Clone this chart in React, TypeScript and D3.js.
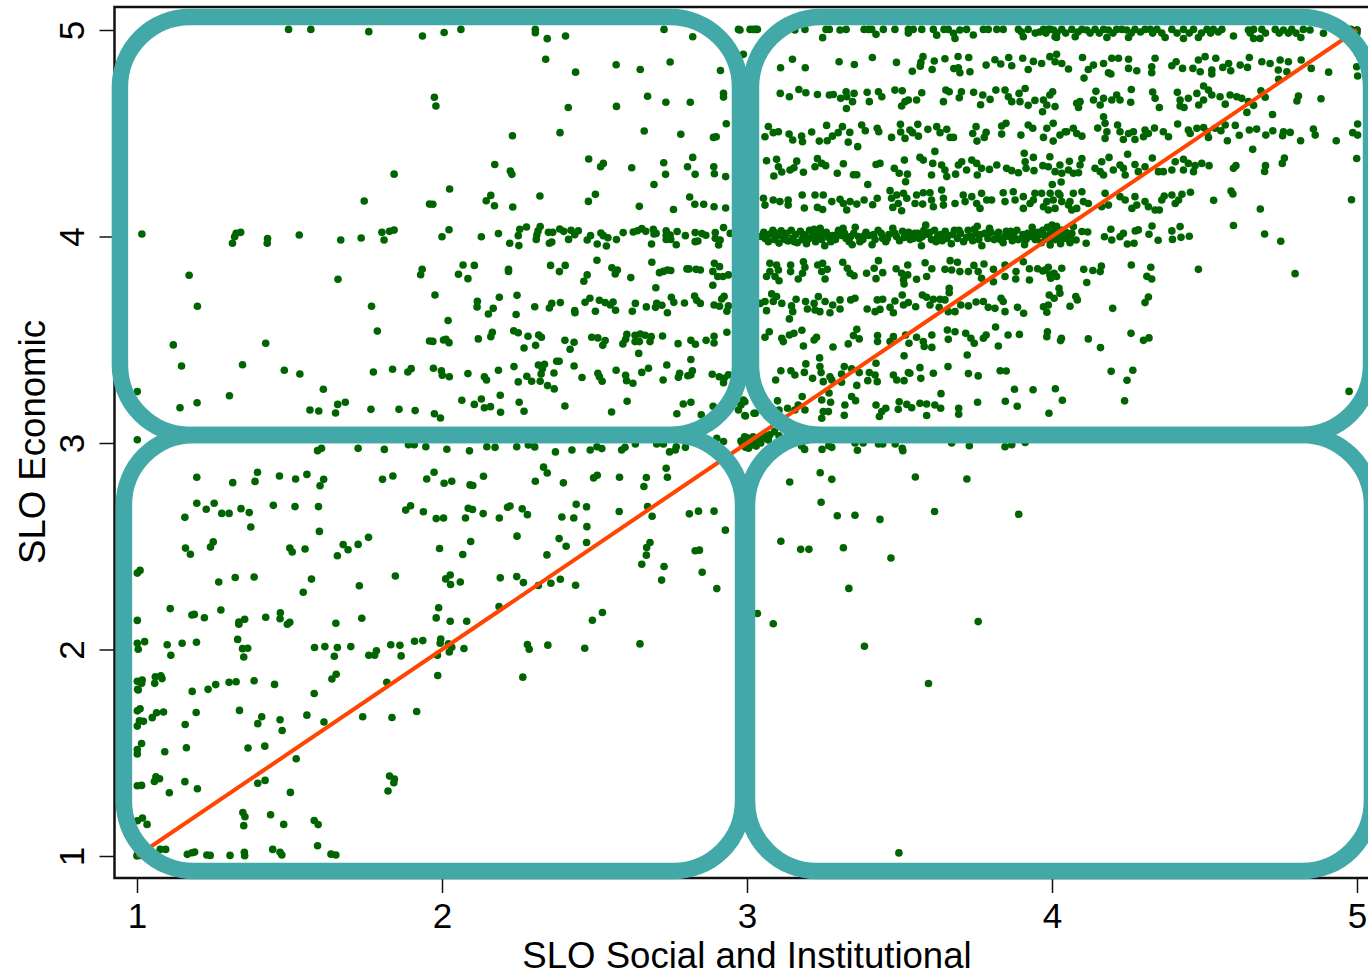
import React, { useEffect, useRef } from "react";
import * as d3 from "d3";

type Pair = [number, number];

const width = 1368;
const height = 974;

const xTicks = [1, 2, 3, 4, 5];
const yTicks = [1, 2, 3, 4, 5];

// quadrant outlines: x0, x1, y0, y1
const quadrants = [
  [0.944, 2.977, 3.039, 5.063],
  [3.013, 5.046, 3.039, 5.063],
  [0.957, 2.987, 0.927, 3.039],
  [3.0, 5.049, 0.927, 3.039],
];

// low social + high economic
const upperLeft: Pair[] = [
  [1.497,5.003],[1.57,5.003],[1.76,4.992],[1.936,4.971],[1.843,4.302],[1.745,4.172],[1.959,4.157],[1.016,4.012],[1.34,4.02],[1.325,4.015],[1.32,3.999],[1.428,3.99],[1.532,4.007],[1.668,3.983],[1.735,3.993],[1.803,4.02],[1.828,4.025],[1.843,4.031],[1.81,3.983],
  [2.007,4.988],[2.062,5.003],[2.306,5.003],[2.306,4.987],[2.345,4.958],[2.405,4.971],[2.728,5.003],[2.822,4.967],[2.972,5.003],[2.988,4.882],[2.34,4.858],[2.438,4.796],[2.571,4.832],[2.65,4.809],[2.748,4.845],[2.913,4.804],[1.975,4.674],[1.98,4.632],[2.414,4.625],[2.572,4.63],[2.674,4.679],[2.734,4.65],[2.814,4.65],[2.923,4.693],[2.923,4.675],[2.231,4.488],[2.387,4.503],[2.663,4.511],[2.783,4.495],[2.932,4.546],[2.89,4.48],[2.899,4.483],[2.173,4.349],[2.224,4.317],[2.229,4.301],[2.481,4.375],[2.52,4.338],[2.529,4.354],[2.622,4.333],[2.727,4.357],[2.733,4.301],[2.805,4.338],[2.822,4.383],[2.83,4.301],[2.891,4.338],[2.893,4.304],[2.93,4.29],[2.025,4.23],[1.97,4.156],[2.16,4.199],[2.145,4.173],[2.172,4.149],[2.232,4.143],[2.321,4.196],[2.503,4.204],[2.48,4.17],[2.647,4.146],[2.695,4.252],[2.759,4.131],[2.812,4.191],[2.829,4.156],[2.858,4.156],[2.892,4.144],[2.93,4.138],
  [2.0,3.999],[2.023,4.033],[2.129,3.999],[2.185,4.014],[2.222,3.967],[2.25,4.004],[2.255,4.035],[2.277,4.046],[2.252,3.956],[2.309,3.986],[2.311,4.007],[2.315,4.027],[2.322,4.048],[2.349,4.02],[2.363,4.02],[2.352,3.967],[2.36,3.973],[2.386,4.036],[2.399,4.025],[2.415,3.986],[2.423,4.03],[2.435,4.009],[2.447,4.028],[2.476,3.983],[2.487,4.004],[2.509,3.964],[2.521,4.017],[2.529,4.004],[2.544,3.994],[2.539,3.954],[2.572,3.985],[2.594,4.019],[2.627,4.022],[2.641,4.028],[2.655,4.038],[2.668,4.025],[2.687,3.964],[2.693,4.035],[2.695,4.012],[2.702,4.015],[2.735,4.028],[2.735,4.006],[2.735,3.986],[2.748,4.007],[2.75,3.986],[2.768,3.96],[2.771,4.024],[2.798,4.004],[2.83,4.019],[2.83,3.975],[2.839,3.978],[2.852,4.014],[2.865,4.006],[2.896,4.019],[2.896,3.991],[2.907,3.959],[2.912,3.983],[2.923,4.043],[2.945,4.015],
  [2.069,3.862],[2.106,3.86],[2.054,3.817],[2.085,3.796],[2.218,3.841],[2.218,3.831],[2.356,3.86],[2.404,3.86],[2.385,3.83],[2.508,3.885],[2.476,3.814],[2.465,3.783],[2.557,3.849],[2.575,3.838],[2.568,3.819],[2.619,3.801],[2.688,3.875],[2.713,3.825],[2.726,3.831],[2.739,3.838],[2.75,3.835],[2.803,3.843],[2.81,3.843],[2.833,3.841],[2.847,3.838],[2.888,3.831],[2.893,3.87],[2.91,3.854],[2.904,3.806],[2.921,3.806],[2.939,3.814],[2.701,3.752],[2.888,3.764],
  [1.977,3.717],[2.116,3.686],[2.115,3.659],[2.168,3.652],[2.152,3.625],[2.188,3.706],[2.246,3.715],[2.243,3.622],[2.304,3.66],[2.352,3.654],[2.36,3.676],[2.388,3.68],[2.435,3.641],[2.436,3.631],[2.469,3.681],[2.485,3.701],[2.503,3.638],[2.516,3.691],[2.535,3.68],[2.552,3.668],[2.561,3.683],[2.569,3.643],[2.624,3.638],[2.634,3.676],[2.67,3.659],[2.7,3.657],[2.704,3.676],[2.721,3.667],[2.739,3.631],[2.752,3.706],[2.76,3.681],[2.795,3.678],[2.828,3.712],[2.835,3.691],[2.847,3.676],[2.892,3.668],[2.91,3.662],[2.917,3.697],[2.925,3.71],[2.934,3.638],[2.939,3.664],
  [2.02,3.593],[1.97,3.492],[2.005,3.499],[2.013,3.502],[2.023,3.486],[2.119,3.504],[2.16,3.515],[2.165,3.536],[2.235,3.543],[2.25,3.534],[2.282,3.517],[2.317,3.523],[2.326,3.512],[2.269,3.46],[2.307,3.473],[2.403,3.497],[2.433,3.488],[2.42,3.454],[2.491,3.512],[2.511,3.509],[2.535,3.496],[2.527,3.473],[2.593,3.48],[2.606,3.526],[2.602,3.502],[2.633,3.522],[2.633,3.491],[2.65,3.528],[2.647,3.491],[2.666,3.522],[2.686,3.515],[2.682,3.491],[2.723,3.518],[2.645,3.434],[2.774,3.481],[2.816,3.497],[2.831,3.478],[2.866,3.497],[2.892,3.517],[2.892,3.484],[2.934,3.536],
  [1.972,3.362],[1.998,3.35],[2.001,3.328],[2.024,3.321],[2.085,3.336],[2.139,3.321],[2.146,3.305],[2.185,3.352],[2.236,3.37],[2.25,3.296],[2.278,3.323],[2.294,3.299],[2.316,3.378],[2.336,3.381],[2.329,3.359],[2.325,3.334],[2.322,3.299],[2.367,3.339],[2.346,3.278],[2.368,3.262],[2.376,3.396],[2.384,3.396],[2.433,3.373],[2.459,3.317],[2.511,3.338],[2.516,3.321],[2.525,3.299],[2.571,3.352],[2.602,3.328],[2.605,3.302],[2.626,3.289],[2.655,3.342],[2.677,3.362],[2.725,3.305],[2.737,3.378],[2.779,3.338],[2.775,3.318],[2.806,3.326],[2.816,3.33],[2.821,3.35],[2.816,3.404],[2.886,3.333],[2.909,3.321],[2.923,3.292],[2.925,3.313],[2.939,3.33],
  [2.065,3.207],[2.106,3.187],[2.129,3.213],[2.139,3.171],[2.159,3.176],[2.191,3.231],[2.192,3.149],[2.253,3.197],[2.269,3.154],[2.403,3.179],[2.556,3.15],[2.607,3.202],[2.77,3.142],[2.791,3.189],[2.816,3.197],[2.85,3.137],[2.889,3.178],[1.975,3.142],[1.995,3.121],[2.972,3.16],[2.988,3.208],[2.995,3.131],[3.027,3.144],[2.98,3.184],
  [1.313,3.967],[1.427,3.967],[1.171,3.812],[1.659,3.793],[1.93,3.815],[1.935,3.841],[1.198,3.662],[1.769,3.662],[1.788,3.542],[1.959,3.494],[1.119,3.475],[1.422,3.483],[1.146,3.373],[1.346,3.379],[1.483,3.352],[1.534,3.334],[1.775,3.344],[1.838,3.357],[1.888,3.344],[1.899,3.36],[1.001,3.249],[1.611,3.26],[1.303,3.229],[1.197,3.195],[1.141,3.171],[1.658,3.187],[1.683,3.197],[1.567,3.16],[1.596,3.155],[1.651,3.145],[1.767,3.163],[1.859,3.163],[1.912,3.157],[1.001,3.016],
];

// the crowded row around y = 3 and the clump at (3, 3)
const rowThree: Pair[] = [
  [2.016,2.97],[2.09,2.962],[2.147,2.982],[2.174,2.979],[2.245,2.982],[2.283,2.99],[2.304,2.981],[2.372,2.957],[2.426,2.966],[2.486,2.966],[2.508,2.982],[2.524,2.973],[2.589,2.966],[2.6,2.979],[2.634,2.995],[2.704,2.995],[2.726,2.995],[2.746,2.957],[2.765,2.966],[2.768,2.982],[2.798,2.979],[2.901,3.023],[2.923,3.007],
  [1.592,2.963],[1.605,2.974],[1.725,2.974],[1.811,2.969],[1.89,2.992],[1.909,2.992],[1.947,2.982],
  [2.985,2.995],[2.99,3.015],[2.995,2.98],[3.0,3.0],[3.0,3.025],[3.005,2.975],[3.01,3.012],[3.015,2.99],[3.02,3.03],[3.025,3.005],[2.98,3.01],[3.03,2.985],[2.992,3.03],[3.035,3.015],[3.05,3.02],[3.06,3.035],[3.075,3.04],[3.09,3.055],[3.105,3.035],[3.07,3.015],[3.045,3.0],
];

const lowerRight: Pair[] = [
  [3.24,2.856],[3.278,2.824],[3.14,2.811],[3.552,2.835],[3.721,2.826],[3.243,2.713],[3.296,2.648],[3.354,2.65],[3.436,2.63],[3.615,2.668],[3.891,2.655],[3.111,2.524],[3.176,2.485],[3.203,2.485],[3.316,2.493],[3.472,2.443],[3.334,2.296],[3.034,2.174],[3.086,2.125],[3.758,2.135],[3.385,2.016],[3.595,1.835],[3.498,1.015],
  [3.179,2.986],[3.189,2.969],[3.246,2.969],[3.268,2.987],[3.278,2.979],[3.362,2.965],[3.509,2.974],[3.511,2.963],[3.729,2.987],[3.846,2.982],[3.868,2.992],[3.354,3.0],[3.381,3.0],[3.431,2.995],[3.445,2.995],[3.486,2.995],[3.671,3.0],[3.912,3.003],
];

const lowerLeft: Pair[] = [
  [1.196,2.834],[1.314,2.808],[1.395,2.858],[1.387,2.814],[1.467,2.84],[1.52,2.826],[1.557,2.848],[1.612,2.824],[1.6,2.793],[1.805,2.824],[1.839,2.84],[1.95,2.826],[1.196,2.708],[1.227,2.679],[1.253,2.708],[1.278,2.659],[1.302,2.659],[1.341,2.682],[1.368,2.663],[1.373,2.593],[1.447,2.698],[1.518,2.692],[1.595,2.692],[1.881,2.675],[1.897,2.696],[1.939,2.667],[1.157,2.64],[1.598,2.572],[1.759,2.543],[1.725,2.509],[1.676,2.508],[1.692,2.483],[1.657,2.454],[1.551,2.487],[1.501,2.491],[1.509,2.472],[1.25,2.521],[1.241,2.496],[1.159,2.491],[1.175,2.461],[1.01,2.383],[1.001,2.37],[1.268,2.327],[1.322,2.349],[1.384,2.351],[1.572,2.341],[1.545,2.277],[1.729,2.309],[1.847,2.356],[1.109,2.198],[1.18,2.167],[1.188,2.17],[1.221,2.154],[1.275,2.191],[1.001,2.141],[1.334,2.133],[1.334,2.122],[1.353,2.146],[1.422,2.156],[1.47,2.178],[1.469,2.149],[1.493,2.122],[1.501,2.132],[1.652,2.127],[1.737,2.151],[1.001,2.03],[1.025,2.038],[1.004,2.001],[1.099,2.023],[1.148,2.03],[1.195,2.035],[1.111,1.972],[1.33,2.049],[1.346,2.004],[1.363,2.006],[1.35,1.964],[1.582,2.01],[1.616,2.014],[1.657,2.01],[1.647,1.967],[1.701,2.014],[1.76,1.972],[1.779,1.972],[1.785,1.994],[1.832,2.023],[1.862,2.02],[1.866,1.969],[1.91,2.04],[1.937,2.043],[1.653,1.88],[1.639,1.857],[1.819,1.841],[1.001,1.846],[1.017,1.852],[1.015,1.836],[1.06,1.868],[1.078,1.873],[1.082,1.859],[1.058,1.836],[1.302,1.841],[1.325,1.844],[1.258,1.83],[1.384,1.849],[1.451,1.831],[1.002,1.807],
  [1.181,1.797],[1.233,1.807],[1.581,1.787],[1.004,1.804],[1.001,1.703],[1.01,1.713],[1.087,1.697],[1.064,1.694],[1.05,1.67],[1.194,1.695],[1.336,1.705],[1.409,1.674],[1.396,1.641],[1.469,1.66],[1.476,1.608],[1.557,1.682],[1.613,1.649],[1.74,1.674],[1.836,1.671],[1.917,1.7],[1.158,1.637],[1.008,1.655],[1.021,1.652],[1.001,1.629],[1.015,1.545],[1.001,1.516],[1.001,1.494],[1.091,1.505],[1.162,1.524],[1.364,1.523],[1.419,1.532],[1.522,1.471],[1.062,1.384],[1.074,1.374],[1.057,1.361],[1.001,1.34],[1.015,1.342],[1.157,1.36],[1.198,1.326],[1.106,1.306],[1.396,1.352],[1.42,1.366],[1.503,1.308],[1.828,1.387],[1.844,1.373],[1.842,1.355],[1.823,1.315],[1.347,1.211],[1.354,1.19],[1.35,1.147],[1.438,1.2],[1.481,1.153],[1.581,1.172],[1.594,1.152],[1.018,1.184],[1.001,1.171],[1.033,1.153],[1.592,1.05],[1.445,1.032],[1.469,1.018],[1.475,1.005],[1.352,1.018],[1.353,1.001],[1.305,1.003],[1.229,1.005],[1.24,1.003],[1.165,1.008],[1.18,1.016],[1.189,1.019],[1.094,1.032],[1.076,1.032],[1.001,1.006],[1.012,1.003],[1.636,1.009],[1.652,1.005],
  [2.333,2.883],[2.345,2.855],[1.974,2.858],[2.007,2.805],[2.032,2.815],[2.092,2.797],[2.101,2.794],[2.136,2.839],[2.306,2.815],[2.398,2.807],[2.497,2.831],[2.509,2.844],[2.582,2.834],[2.67,2.833],[2.662,2.789],[2.735,2.878],[2.739,2.834],[2.086,2.684],[2.1,2.678],[2.135,2.658],[2.077,2.637],[1.981,2.634],[2.005,2.637],[2.188,2.637],[2.215,2.689],[2.223,2.695],[2.263,2.681],[2.28,2.653],[2.393,2.642],[2.432,2.637],[2.44,2.703],[2.474,2.691],[2.475,2.595],[2.581,2.668],[2.674,2.692],[2.689,2.645],[2.811,2.657],[2.841,2.67],[2.892,2.67],[2.929,2.578],[2.094,2.523],[1.992,2.489],[2.068,2.46],[2.246,2.549],[2.384,2.537],[2.407,2.5],[2.474,2.518],[2.344,2.458],[2.682,2.518],[2.671,2.494],[2.67,2.457],[2.655,2.413],[2.728,2.402],[2.72,2.336],[2.83,2.478],[2.844,2.481],[2.853,2.374],[2.901,2.295],[2.027,2.361],[2.012,2.342],[2.028,2.315],[2.06,2.327],[2.191,2.347],[2.245,2.353],[2.267,2.324],[2.316,2.31],[2.357,2.321],[2.388,2.34],[2.438,2.311],[1.989,2.202],[1.981,2.153],[2.027,2.137],[2.081,2.137],[2.187,2.208],[2.493,2.142],[2.526,2.179],[1.996,2.051],[1.994,2.03],[2.021,2.027],[2.032,2.011],[2.024,1.988],[1.985,1.972],[2.072,2.005],[2.28,2.024],[2.286,2.001],[2.347,2.021],[2.468,2.006],[2.649,2.027],[1.986,1.874],[2.265,1.866],
];

const topRow: Pair[] = [
  [2.977,5.0],[3.01,5.003],[3.021,5.003],[3.03,5.003],[3.034,5.003],[3.157,5.0],[3.19,5.003],[3.259,5.003],[3.27,5.003],[3.248,4.963],[3.305,5.0],[3.325,5.003],[3.384,5.003],[3.398,5.003],[3.409,5.003],[3.423,4.979],[3.447,5.003],[3.485,5.003],[3.529,5.003],[3.529,4.985],[3.545,5.003],[3.573,5.003],[3.611,5.003],[3.622,4.975],[3.646,5.003],[3.66,5.003],[3.677,4.984],[3.682,4.959],[3.698,5.0],[3.72,5.003],[3.742,4.976],[3.775,5.003],[3.791,5.003],[3.819,5.003],[3.84,5.003],[3.89,5.003],[3.906,4.967],[3.922,5.003],[3.972,5.003],[3.988,5.003],[4.015,4.964],[4.032,5.003],
  [3.994,5.003],[4.016,4.985],[4.01,4.967],[4.065,5.003],[4.076,4.967],[4.098,5.003],[4.114,5.0],[4.141,5.003],[4.169,5.003],[4.185,5.0],[4.18,4.964],[4.212,5.003],[4.229,5.003],[4.245,5.0],[4.251,4.964],[4.272,5.003],[4.305,5.003],[4.322,5.003],[4.344,5.003],[4.371,4.964],[4.393,5.003],[4.431,5.003],[4.431,4.959],[4.464,5.003],[4.48,4.964],[4.508,5.003],[4.529,5.003],[4.557,5.003],[4.595,4.971],[4.644,5.0],[4.661,5.003],[4.661,4.959],[4.682,4.959],[4.688,5.003],[4.732,5.003],[4.759,5.0],[4.786,5.003],[4.816,4.964],[4.824,5.003],[4.846,5.0],[4.89,4.984],[4.93,5.0],[4.96,5.0],[4.98,5.003],[5.0,5.0],[5.0,4.985],
  [3.9,4.99],[3.945,4.985],[3.96,4.99],[3.98,4.985],[4.005,5.0],[4.045,4.985],[4.085,4.99],[4.125,4.985],[4.155,4.985],[4.2,4.985],[4.26,4.985],[4.29,4.99],[4.33,4.985],[4.36,4.985],[4.41,4.985],[4.45,4.985],[4.49,4.985],[4.52,4.985],[4.545,4.99],[4.65,4.985],[4.7,4.985],[4.745,4.985],[4.775,4.985],[4.8,4.985],
];

const rowFourEight: Pair[] = [
  [3.11,4.817],[3.149,4.858],[3.191,4.817],[3.302,4.846],[3.352,4.833],[3.411,4.867],[3.49,4.843],[3.542,4.8],[3.568,4.825],[3.57,4.843],[3.577,4.871],[3.607,4.809],[3.614,4.85],[3.649,4.861],[3.678,4.813],[3.692,4.872],[3.698,4.793],[3.693,4.817],[3.727,4.867],[3.731,4.798],[3.784,4.83],[3.813,4.856],[3.832,4.835],[3.858,4.867],[3.868,4.827],[3.904,4.863],[3.922,4.809],[3.939,4.848],[3.966,4.838],[3.993,4.871],[4.015,4.882],[4.01,4.846],[4.032,4.838],[4.054,4.811],
  [4.1,4.867],[4.105,4.767],[4.119,4.809],[4.136,4.83],[4.169,4.838],[4.185,4.793],[4.193,4.787],[4.196,4.863],[4.218,4.863],[4.251,4.858],[4.251,4.814],[4.278,4.803],[4.327,4.822],[4.327,4.793],[4.338,4.863],[4.393,4.827],[4.407,4.846],[4.428,4.814],[4.462,4.814],[4.48,4.855],[4.486,4.798],[4.502,4.871],[4.524,4.806],[4.524,4.787],[4.537,4.863],[4.56,4.819],[4.579,4.838],[4.586,4.803],[4.617,4.83],[4.641,4.819],[4.647,4.867],[4.688,4.846],[4.715,4.838],[4.748,4.855],[4.742,4.806],[4.775,4.846],[4.77,4.798],[4.817,4.855],[4.85,4.814],[4.907,4.796],[4.999,4.822],[5.002,4.777],
];

const rowFourSeven: Pair[] = [
  [3.109,4.693],[3.139,4.677],[3.17,4.712],[3.193,4.696],[3.231,4.688],[3.27,4.685],[3.283,4.688],[3.307,4.669],[3.325,4.701],[3.327,4.677],[3.351,4.693],[3.346,4.653],[3.326,4.62],[3.394,4.698],[3.401,4.653],[3.431,4.701],[3.442,4.677],[3.485,4.709],[3.509,4.706],[3.529,4.661],[3.518,4.653],[3.507,4.632],[3.556,4.661],[3.573,4.696],[3.644,4.653],[3.652,4.709],[3.663,4.701],[3.696,4.672],[3.703,4.701],[3.743,4.698],[3.773,4.685],[3.766,4.638],[3.797,4.664],[3.816,4.709],[3.846,4.709],[3.857,4.677],[3.868,4.653],[3.892,4.693],[3.895,4.653],[3.912,4.717],[3.922,4.635],[3.944,4.659],[3.972,4.661],[3.993,4.685],[4.002,4.701],[3.983,4.637],[4.01,4.629],[3.969,4.604],
  [4.081,4.645],[4.092,4.653],[4.087,4.625],[4.144,4.703],[4.136,4.661],[4.158,4.637],[4.169,4.669],[4.196,4.661],[4.212,4.685],[4.223,4.661],[4.26,4.712],[4.258,4.65],[4.33,4.7],[4.338,4.669],[4.352,4.625],[4.411,4.698],[4.42,4.661],[4.42,4.632],[4.433,4.625],[4.447,4.669],[4.475,4.693],[4.481,4.637],[4.497,4.729],[4.497,4.661],[4.513,4.709],[4.524,4.685],[4.551,4.677],[4.568,4.641],[4.584,4.685],[4.606,4.677],[4.622,4.669],[4.639,4.601],[4.644,4.653],[4.661,4.635],[4.685,4.706],[4.699,4.674],[4.723,4.591],[4.743,4.761],[4.808,4.68],[4.803,4.656],[4.882,4.667],
];

const rowFourFive: Pair[] = [
  [3.07,4.533],[3.059,4.483],[3.086,4.503],[3.103,4.507],[3.138,4.496],[3.15,4.467],[3.179,4.486],[3.182,4.459],[3.212,4.506],[3.237,4.462],[3.261,4.538],[3.263,4.464],[3.28,4.486],[3.299,4.503],[3.313,4.532],[3.337,4.504],[3.332,4.457],[3.363,4.435],[3.376,4.54],[3.388,4.512],[3.427,4.524],[3.432,4.507],[3.474,4.48],[3.503,4.543],[3.504,4.506],[3.518,4.475],[3.534,4.516],[3.56,4.543],[3.562,4.486],[3.543,4.503],[3.593,4.519],[3.622,4.532],[3.633,4.503],[3.655,4.519],[3.666,4.48],[3.677,4.48],[3.74,4.499],[3.751,4.532],[3.754,4.462],[3.784,4.504],[3.778,4.48],[3.835,4.535],[3.849,4.548],[3.835,4.496],[3.898,4.491],[3.922,4.54],[3.937,4.524],[3.972,4.48],[3.983,4.524],[4.004,4.548],[4.004,4.462],[4.026,4.491],[4.043,4.507],
  [4.048,4.507],[4.07,4.524],[4.081,4.499],[4.098,4.486],[4.15,4.525],[4.169,4.58],[4.174,4.548],[4.18,4.507],[4.174,4.475],[4.215,4.54],[4.223,4.507],[4.234,4.47],[4.251,4.499],[4.267,4.507],[4.272,4.47],[4.305,4.516],[4.3,4.483],[4.316,4.499],[4.336,4.525],[4.365,4.507],[4.382,4.483],[4.412,4.545],[4.447,4.516],[4.453,4.499],[4.475,4.524],[4.497,4.528],[4.508,4.507],[4.513,4.48],[4.535,4.524],[4.554,4.512],[4.568,4.54],[4.575,4.464],[4.601,4.538],[4.614,4.49],[4.647,4.516],[4.671,4.52],[4.658,4.422],[4.701,4.491],[4.724,4.512],[4.759,4.507],[4.781,4.504],[4.756,4.488],[4.815,4.464],[4.857,4.52],[4.863,4.491],[4.932,4.464],[5.002,4.545],[4.986,4.503],[5.002,4.491],
];

const rowFourThree: Pair[] = [
  [3.616,4.412],[3.064,4.367],[3.097,4.374],[3.103,4.338],[3.114,4.312],[3.088,4.293],[3.141,4.322],[3.163,4.365],[3.154,4.333],[3.185,4.311],[3.231,4.377],[3.223,4.338],[3.245,4.354],[3.258,4.343],[3.296,4.306],[3.316,4.352],[3.349,4.299],[3.36,4.299],[3.396,4.252],[3.423,4.349],[3.436,4.354],[3.483,4.33],[3.499,4.306],[3.516,4.37],[3.526,4.302],[3.52,4.265],[3.567,4.383],[3.578,4.37],[3.605,4.298],[3.609,4.354],[3.638,4.346],[3.649,4.322],[3.655,4.29],[3.684,4.302],[3.693,4.346],[3.704,4.362],[3.72,4.322],[3.737,4.37],[3.753,4.354],[3.755,4.298],[3.769,4.33],[3.795,4.325],[3.819,4.346],[3.851,4.33],[3.868,4.319],[3.89,4.309],[3.909,4.403],[3.912,4.362],[3.915,4.33],[3.939,4.383],[3.941,4.319],[3.97,4.343],[3.993,4.386],[3.988,4.338],[4.01,4.314],[4.026,4.346],[4.032,4.306],[4.001,4.252],[4.03,4.264],[4.054,4.322],
  [4.057,4.364],[4.098,4.378],[4.092,4.346],[4.07,4.306],[4.087,4.309],[4.141,4.33],[4.163,4.362],[4.158,4.314],[4.169,4.298],[4.187,4.383],[4.201,4.322],[4.223,4.346],[4.234,4.33],[4.248,4.398],[4.24,4.298],[4.272,4.349],[4.283,4.314],[4.305,4.338],[4.329,4.38],[4.349,4.314],[4.365,4.314],[4.393,4.322],[4.404,4.362],[4.431,4.374],[4.431,4.322],[4.447,4.354],[4.464,4.314],[4.469,4.343],[4.491,4.354],[4.515,4.343],[4.595,4.33],[4.603,4.343],[4.7,4.343],[4.697,4.315],[4.762,4.38],[4.755,4.354],[4.999,4.378],
];

const rowFourTwo: Pair[] = [
  [3.054,4.185],[3.059,4.152],[3.086,4.177],[3.108,4.169],[3.135,4.177],[3.135,4.152],[3.181,4.201],[3.188,4.138],[3.223,4.201],[3.25,4.201],[3.231,4.141],[3.248,4.131],[3.278,4.169],[3.305,4.18],[3.316,4.16],[3.327,4.128],[3.338,4.169],[3.36,4.157],[3.384,4.177],[3.412,4.154],[3.427,4.185],[3.469,4.222],[3.474,4.185],[3.478,4.141],[3.491,4.201],[3.496,4.16],[3.513,4.209],[3.524,4.185],[3.507,4.125],[3.556,4.201],[3.551,4.16],[3.578,4.212],[3.576,4.157],[3.6,4.212],[3.605,4.177],[3.611,4.144],[3.638,4.225],[3.644,4.185],[3.644,4.152],[3.682,4.16],[3.709,4.201],[3.715,4.169],[3.737,4.193],[3.753,4.16],[3.769,4.209],[3.764,4.136],[3.786,4.177],[3.802,4.177],[3.84,4.212],[3.846,4.169],[3.873,4.217],[3.879,4.177],[3.906,4.193],[3.906,4.136],[3.928,4.16],[3.944,4.209],[3.939,4.177],[3.966,4.209],[3.983,4.169],[3.988,4.128],[4.004,4.177],[4.026,4.201],[4.032,4.169],[4.01,4.136],[4.054,4.152],
  [3.972,4.144],[3.994,4.209],[4.021,4.209],[4.07,4.209],[4.059,4.169],[4.065,4.128],[4.098,4.217],[4.081,4.136],[4.103,4.169],[4.119,4.16],[4.163,4.144],[4.174,4.209],[4.185,4.152],[4.223,4.193],[4.24,4.177],[4.272,4.193],[4.278,4.152],[4.262,4.136],[4.305,4.169],[4.316,4.144],[4.338,4.128],[4.352,4.128],[4.36,4.177],[4.368,4.196],[4.393,4.201],[4.404,4.16],[4.426,4.204],[4.415,4.177],[4.454,4.214],[4.53,4.175],[4.587,4.22],[4.593,4.206],[4.683,4.133],[4.982,4.178],
];

// the thick band at y = 4
const rowFour: Pair[] = [
  [3.045,4.0],[3.055,4.02],[3.06,3.99],[3.07,3.975],[3.075,4.012],[3.085,4.03],[3.09,3.985],[3.1,4.005],[3.105,3.968],[3.112,4.028],[3.12,3.995],[3.13,4.015],[3.135,3.978],[3.145,4.03],[3.15,3.992],[3.16,4.01],[3.165,3.97],[3.175,4.025],[3.18,3.985],[3.19,4.005],[3.195,3.965],[3.205,4.03],[3.21,3.995],[3.22,4.035],[3.225,3.975],[3.235,4.012],[3.24,4.04],[3.245,3.985],[3.255,3.955],[3.26,4.02],[3.268,3.995],[3.28,4.005],[3.29,3.985],[3.3,4.03],[3.31,4.005],[3.315,4.04],[3.325,3.99],[3.335,3.975],[3.345,3.96],[3.35,4.015],[3.355,4.045],[3.365,4.0],[3.38,3.985],[3.39,4.02],[3.4,4.005],[3.41,3.96],[3.42,3.985],[3.43,4.03],[3.445,3.99],[3.455,3.975],[3.465,4.01],[3.478,4.04],[3.49,4.0],[3.5,3.98],[3.51,4.025],[3.525,4.005],[3.535,3.985],[3.55,4.015],[3.565,3.99],[3.572,3.955],[3.58,4.03],[3.586,4.055],[3.595,4.01],[3.605,3.985],[3.615,4.03],[3.625,4.0],[3.64,3.98],[3.65,4.025],[3.66,4.005],[3.67,3.965],[3.68,4.03],[3.69,3.99],[3.7,4.015],[3.71,3.975],[3.725,4.03],[3.735,4.0],[3.745,4.035],[3.755,4.05],[3.76,3.985],[3.77,3.955],[3.78,4.015],[3.795,4.04],[3.82,4.01],[3.83,3.985],[3.84,3.97],[3.85,4.025],[3.86,4.0],[3.87,3.98],[3.885,4.03],[3.9,3.99],[3.91,3.96],[3.92,4.015],[3.935,4.045],[3.945,3.985],[3.955,4.02],[3.965,3.97],[3.975,4.005],[3.985,4.045],[3.99,3.985],[4.0,4.055],[4.005,4.02],[4.01,3.985],[4.015,4.05],[4.02,4.0],[4.028,3.965],[4.032,4.03],[4.04,3.99],[4.05,4.015],
  [3.994,3.959],[4.07,4.048],[4.117,4.022],[4.112,3.967],[4.098,4.024],[4.059,3.999],[4.059,3.97],[4.079,3.983],[4.193,4.035],[4.172,3.999],[4.196,3.983],[4.223,3.999],[4.234,4.015],[4.247,3.964],[4.269,3.967],[4.273,4.027],[4.283,4.032],[4.328,4.051],[4.318,4.011],[4.348,3.982],[4.393,4.027],[4.395,3.986],[4.42,4.048],[4.423,3.996],[4.45,4.001],[4.595,4.053],[4.697,4.012],[4.75,3.977],
  [3.065,4.005],[3.095,4.015],[3.125,3.985],[3.155,3.975],[3.185,4.01],[3.2,3.985],[3.215,4.012],[3.23,3.995],[3.25,4.015],[3.275,3.975],[3.295,4.01],[3.32,4.015],[3.34,4.0],[3.37,3.975],[3.385,4.005],[3.415,4.01],[3.44,4.015],[3.46,3.99],[3.485,4.015],[3.515,3.995],[3.53,4.02],[3.545,3.99],[3.56,4.015],[3.575,4.0],[3.6,4.02],[3.62,3.975],[3.635,4.01],[3.655,3.99],[3.675,4.01],[3.695,4.03],[3.72,3.995],[3.74,3.98],[3.75,4.015],[3.765,4.01],[3.79,3.99],[3.8,4.02],[3.81,3.985],[3.825,4.02],[3.845,4.0],[3.865,4.025],[3.875,4.005],[3.89,3.985],[3.905,4.01],[3.915,3.985],[3.93,4.0],[3.94,4.02],[3.95,3.99],[3.96,4.01],[3.97,4.03],[3.98,3.99],[3.995,4.015],[4.015,4.015],[4.025,3.985],[4.035,4.0],[4.045,4.02],[4.055,3.985],[4.065,4.015],
];

const rowThreeEight: Pair[] = [
  [3.075,3.87],[3.097,3.862],[3.103,3.838],[3.075,3.83],[3.092,3.806],[3.105,3.786],[3.064,3.806],[3.143,3.862],[3.143,3.83],[3.168,3.794],[3.182,3.822],[3.185,3.878],[3.19,3.851],[3.232,3.862],[3.248,3.87],[3.245,3.83],[3.263,3.841],[3.256,3.794],[3.314,3.875],[3.329,3.846],[3.338,3.822],[3.351,3.81],[3.392,3.822],[3.417,3.846],[3.431,3.883],[3.445,3.825],[3.423,3.796],[3.489,3.844],[3.507,3.822],[3.513,3.79],[3.527,3.862],[3.527,3.814],[3.515,3.77],[3.556,3.793],[3.584,3.873],[3.606,3.844],[3.589,3.806],[3.649,3.841],[3.666,3.883],[3.671,3.838],[3.69,3.875],[3.698,3.83],[3.726,3.83],[3.744,3.86],[3.758,3.83],[3.769,3.798],[3.777,3.867],[3.808,3.841],[3.808,3.781],[3.846,3.862],[3.846,3.806],[3.882,3.83],[3.881,3.794],[3.906,3.878],[3.926,3.844],[3.926,3.789],[3.953,3.844],[3.977,3.838],[3.993,3.814],[4.015,3.806],[4.032,3.846],
  [3.97,3.833],[3.988,3.851],[3.996,3.798],[4.007,3.822],[4.104,3.841],[4.134,3.835],[4.158,3.83],[4.162,3.857],[4.114,3.777],[4.26,3.862],[4.324,3.851],[4.311,3.807],[4.327,3.794],[4.48,3.841],[4.797,3.82],
];

const rowThreeSeven: Pair[] = [
  [3.043,3.676],[3.064,3.641],[3.059,3.685],[3.081,3.722],[3.097,3.709],[3.086,3.685],[3.114,3.676],[3.146,3.664],[3.161,3.696],[3.15,3.636],[3.139,3.601],[3.192,3.685],[3.198,3.649],[3.22,3.676],[3.234,3.709],[3.223,3.644],[3.239,3.636],[3.256,3.685],[3.272,3.631],[3.281,3.668],[3.305,3.693],[3.305,3.649],[3.34,3.693],[3.354,3.701],[3.394,3.649],[3.42,3.636],[3.427,3.693],[3.445,3.696],[3.436,3.647],[3.469,3.657],[3.48,3.631],[3.485,3.688],[3.509,3.717],[3.513,3.668],[3.529,3.68],[3.553,3.66],[3.575,3.717],[3.589,3.706],[3.611,3.696],[3.6,3.668],[3.633,3.696],[3.649,3.693],[3.63,3.657],[3.663,3.749],[3.663,3.728],[3.66,3.636],[3.682,3.636],[3.701,3.668],[3.726,3.664],[3.751,3.683],[3.775,3.685],[3.791,3.657],[3.813,3.652],[3.833,3.701],[3.84,3.685],[3.846,3.636],[3.887,3.657],[3.907,3.628],[3.972,3.66],[3.988,3.668],[3.983,3.633],[3.991,3.717],[4.007,3.701],[4.023,3.749],[4.026,3.725],
  [4.059,3.662],[4.078,3.709],[4.083,3.693],[4.199,3.652],[4.316,3.707],[4.305,3.68],
];

const rowThreeFive: Pair[] = [
  [3.073,3.539],[3.059,3.512],[3.114,3.507],[3.119,3.491],[3.139,3.523],[3.154,3.531],[3.18,3.546],[3.185,3.47],[3.22,3.499],[3.228,3.512],[3.282,3.465],[3.332,3.48],[3.349,3.52],[3.36,3.551],[3.368,3.504],[3.428,3.52],[3.428,3.491],[3.469,3.491],[3.48,3.515],[3.52,3.523],[3.531,3.483],[3.556,3.512],[3.578,3.491],[3.581,3.467],[3.606,3.523],[3.606,3.463],[3.515,3.422],[3.657,3.547],[3.66,3.502],[3.682,3.539],[3.717,3.531],[3.734,3.507],[3.745,3.483],[3.722,3.426],[3.775,3.507],[3.784,3.523],[3.815,3.562],[3.824,3.47],[3.856,3.523],[3.893,3.526],[3.983,3.515],[3.985,3.539],[4.028,3.496],[4.031,3.507],
  [4.119,3.504],[4.159,3.462],[4.259,3.531],[4.3,3.497],[4.318,3.509],
];

const rowThreeThree: Pair[] = [
  [3.238,3.412],[3.193,3.383],[3.111,3.35],[3.094,3.305],[3.144,3.35],[3.157,3.329],[3.188,3.342],[3.215,3.313],[3.239,3.37],[3.243,3.341],[3.25,3.297],[3.272,3.321],[3.278,3.305],[3.31,3.334],[3.31,3.294],[3.319,3.37],[3.343,3.359],[3.368,3.341],[3.36,3.279],[3.396,3.302],[3.401,3.341],[3.423,3.386],[3.42,3.329],[3.427,3.297],[3.48,3.329],[3.491,3.305],[3.515,3.302],[3.529,3.341],[3.534,3.338],[3.567,3.365],[3.57,3.313],[3.611,3.338],[3.659,3.37],[3.726,3.336],[3.758,3.325],[3.83,3.35],[3.85,3.349],[3.636,3.239],[3.877,3.26],[3.938,3.258],[4.011,3.263],[4.034,3.207],
  [4.194,3.347],[4.265,3.352],[4.246,3.304],[4.238,3.204],[4.974,3.25],
];

const rowThreeOne: Pair[] = [
  [2.993,3.2],[2.993,3.133],[3.023,3.144],[3.1,3.204],[3.105,3.16],[3.133,3.168],[3.157,3.16],[3.181,3.225],[3.19,3.16],[3.168,3.184],[3.245,3.208],[3.25,3.152],[3.267,3.152],[3.245,3.12],[3.274,3.197],[3.269,3.242],[3.321,3.184],[3.319,3.134],[3.343,3.225],[3.356,3.205],[3.423,3.184],[3.434,3.128],[3.442,3.152],[3.455,3.168],[3.496,3.163],[3.499,3.2],[3.524,3.187],[3.54,3.171],[3.567,3.192],[3.589,3.189],[3.589,3.133],[3.616,3.184],[3.635,3.168],[3.694,3.168],[3.694,3.139],[3.756,3.197],[3.847,3.202],[3.886,3.178],[3.99,3.144],
];

const points: Pair[] = [
  ...upperLeft, ...rowThree, ...lowerRight, ...lowerLeft, ...topRow, ...rowFourEight, ...rowFourSeven,
  ...rowFourFive, ...rowFourThree, ...rowFourTwo, ...rowFour, ...rowThreeEight, ...rowThreeSeven,
  ...rowThreeFive, ...rowThreeThree, ...rowThreeOne,
  [1.0, 1.0], [5.0, 5.0],
];

const App = () => {
  const ref = useRef<SVGSVGElement>(null);

  useEffect(() => {
    const svg = d3.select(ref.current);
    svg.selectAll("*").remove();

    const x = d3.scaleLinear().domain([1, 5]).range([137, 1357]);
    const y = d3.scaleLinear().domain([1, 5]).range([856, 30]);

    // frame
    svg.append("path").attr("d", "M1368,7 H114.5 V878 H1368").attr("fill", "none").attr("stroke", "#111").attr("stroke-width", 2.5);

    const xAxis = svg.append("g").attr("transform", "translate(0,878)").call(d3.axisBottom(x).tickValues(xTicks).tickFormat(d3.format("d")).tickSize(15).tickPadding(10));
    const yAxis = svg.append("g").attr("transform", "translate(114.5,0)").call(d3.axisLeft(y).tickValues(yTicks).tickFormat(d3.format("d")).tickSize(15).tickPadding(0));
    [xAxis, yAxis].forEach((a) => {
      a.select(".domain").remove();
      a.selectAll("line").attr("stroke", "#111").attr("stroke-width", 1.5);
      a.selectAll("text").attr("font-family", "Liberation Sans").attr("font-size", 35).attr("fill", "#000");
    });
    // y labels stand rotated, centred on the tick
    yAxis.selectAll("text")
      .attr("text-anchor", "middle")
      .attr("dy", 0)
      .attr("x", 0)
      .attr("y", 0)
      .attr("transform", "translate(-31,0) rotate(-90)");

    svg.append("g")
      .selectAll("circle")
      .data(points)
      .join("circle")
      .attr("cx", (d) => x(d[0]))
      .attr("cy", (d) => y(d[1]))
      .attr("r", 3.8)
      .attr("fill", "#006400");

    svg.append("line")
      .attr("x1", x(1)).attr("y1", y(1))
      .attr("x2", x(5)).attr("y2", y(5))
      .attr("stroke", "#ff4500")
      .attr("stroke-width", 4);

    svg.append("g")
      .selectAll("rect")
      .data(quadrants)
      .join("rect")
      .attr("x", (d) => x(d[0]))
      .attr("y", (d) => y(d[3]))
      .attr("width", (d) => x(d[1]) - x(d[0]))
      .attr("height", (d) => y(d[2]) - y(d[3]))
      .attr("rx", 70)
      .attr("ry", 70)
      .attr("fill", "none")
      .attr("stroke", "#42a8a8")
      .attr("stroke-width", 16.5);

    svg.append("text")
      .attr("x", x(3))
      .attr("y", 968)
      .attr("text-anchor", "middle")
      .attr("font-family", "Liberation Sans")
      .attr("font-size", 36.6)
      .text("SLO Social and Institutional");

    svg.append("text")
      .attr("transform", `translate(45,${y(3) - 1}) rotate(-90)`)
      .attr("text-anchor", "middle")
      .attr("font-family", "Liberation Sans")
      .attr("font-size", 36.6)
      .text("SLO Economic");
  }, []);

  return <svg ref={ref} width={width} height={height} style={{ position: "absolute", left: 0, top: 0, background: "#fff" }}></svg>;
};

export default App;
